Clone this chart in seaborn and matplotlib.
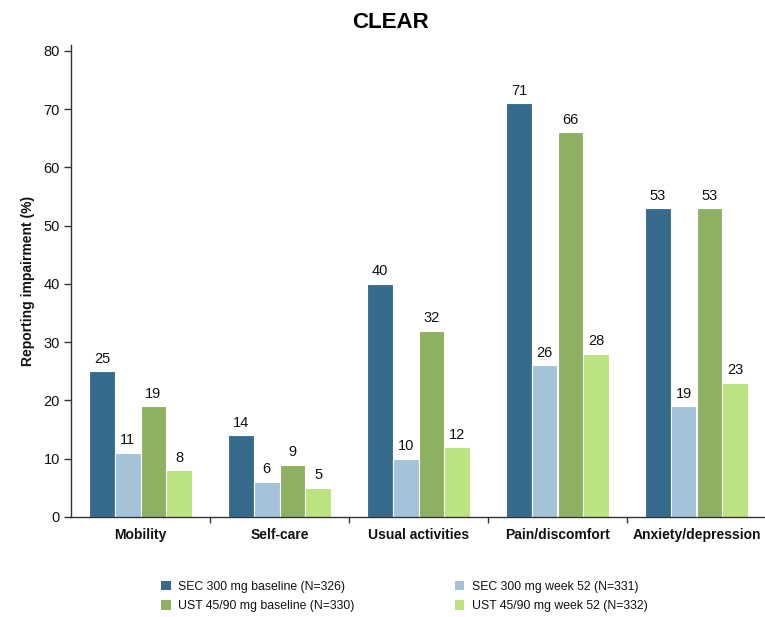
import matplotlib
matplotlib.use("Agg")
import matplotlib.pyplot as plt
import seaborn as sns
import pandas as pd
from matplotlib.patches import Patch

categories = ["Mobility", "Self-care", "Usual activities", "Pain/discomfort", "Anxiety/depression"]
series = ["SEC 300 mg baseline (N=326)", "SEC 300 mg week 52 (N=331)",
          "UST 45/90 mg baseline (N=330)", "UST 45/90 mg week 52 (N=332)"]
sec_base = [25, 14, 40, 71, 53]
sec_w52 = [11, 6, 10, 26, 19]
ust_base = [19, 9, 32, 66, 53]
ust_w52 = [8, 5, 12, 28, 23]
colors = ["#356a8c", "#a3c3d9", "#8db062", "#bbe37f"]

rows = []
for s, vals in zip(series, [sec_base, sec_w52, ust_base, ust_w52]):
    for c, v in zip(categories, vals):
        rows.append({"cat": c, "series": s, "val": v})
df = pd.DataFrame(rows)

sns.set_style("white")
plt.rcParams['font.family'] = ['Liberation Sans', 'DejaVu Sans']
plt.rcParams['text.color'] = '#111111'

fig = plt.figure(figsize=(7.65, 6.17), dpi=100)
ax = fig.add_axes([71/765, 1 - 517/617, 695/765, (517 - 45)/617])

sns.barplot(data=df, x="cat", y="val", hue="series", hue_order=series, order=categories,
            palette=colors, width=0.74, edgecolor="white", linewidth=0.8, ax=ax,
            legend=False, saturation=1)

for cont in ax.containers:
    ax.bar_label(cont, padding=4, fontsize=10.5, color="#111111")

ax.set_xlim(-0.5, 4.5)
ax.set_ylim(0, 81)
ax.set_yticks(range(0, 81, 10))
ax.set_xlabel("")
ax.set_ylabel("Reporting impairment (%)", fontsize=10, fontweight="bold", labelpad=6, color="#111111")
for sp in ["top", "right"]:
    ax.spines[sp].set_visible(False)
for sp in ["left", "bottom"]:
    ax.spines[sp].set_color("#333333")
    ax.spines[sp].set_linewidth(1.0)

ax.tick_params(axis="y", left=True, direction="out", length=5, width=1, color="#333333", labelsize=10.5,
               labelcolor="#111111", pad=3)
ax.tick_params(axis="x", which="major", bottom=True, length=0, labelsize=10, pad=8, labelcolor="#111111")
for lab in ax.get_xticklabels():
    lab.set_fontweight("bold")
ax.set_xticks([0.5, 1.5, 2.5, 3.5], minor=True)
ax.tick_params(axis="x", which="minor", bottom=True, direction="out", length=4, width=1, color="#333333")

fig.suptitle("CLEAR", x=0.51, y=0.98, fontsize=16, fontweight="bold", color="#000000")

handles = [Patch(facecolor=c, edgecolor="none") for c in colors]
order = [0, 2, 1, 3]
fig.legend([handles[i] for i in order], [series[i] for i in order], ncol=2,
           loc="upper left", bbox_to_anchor=(150/765, 1 - 570/617), frameon=False,
           fontsize=8.8, handlelength=0.8, handleheight=0.8, columnspacing=8.2,
           labelspacing=0.6, handletextpad=0.6)

fig.savefig("out.png", dpi=100)
